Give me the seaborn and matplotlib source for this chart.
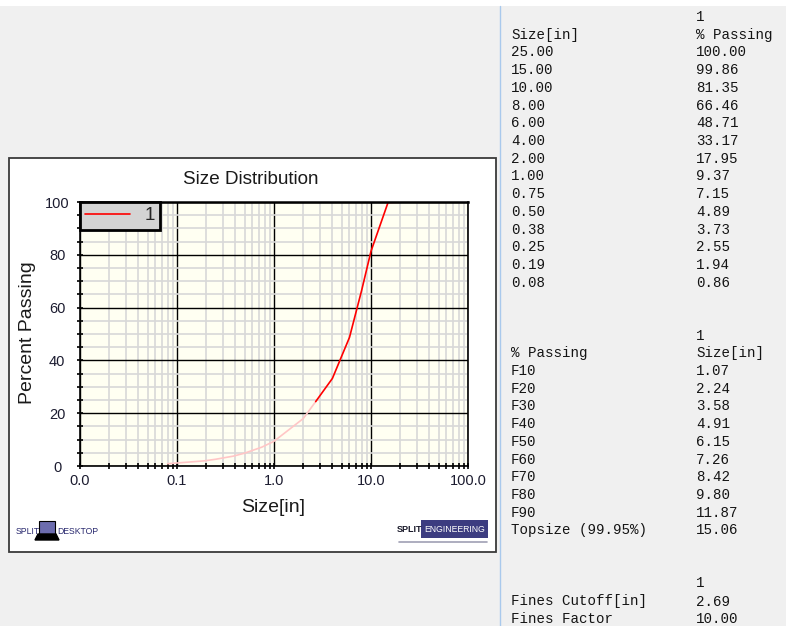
import matplotlib
matplotlib.use("Agg")
import numpy as np
import pandas as pd
import seaborn as sns
import matplotlib.pyplot as plt
from matplotlib.patches import Rectangle, Polygon
from matplotlib.lines import Line2D
from matplotlib.ticker import FixedLocator, LogLocator, NullFormatter, MultipleLocator
from matplotlib import font_manager

# ---------------- data ----------------
sizes = [25.00, 15.00, 10.00, 8.00, 6.00, 4.00, 2.00, 1.00, 0.75, 0.50, 0.38, 0.25, 0.19, 0.08]
passing = [100.00, 99.86, 81.35, 66.46, 48.71, 33.17, 17.95, 9.37, 7.15, 4.89, 3.73, 2.55, 1.94, 0.86]
size_labels = ["25.00", "15.00", "10.00", "8.00", "6.00", "4.00", "2.00", "1.00",
               "0.75", "0.50", "0.38", "0.25", "0.19", "0.08"]
passing_labels = ["100.00", "99.86", "81.35", "66.46", "48.71", "33.17", "17.95", "9.37",
                  "7.15", "4.89", "3.73", "2.55", "1.94", "0.86"]
f_labels = ["F10", "F20", "F30", "F40", "F50", "F60", "F70", "F80", "F90", "Topsize (99.95%)"]
f_values = ["1.07", "2.24", "3.58", "4.91", "6.15", "7.26", "8.42", "9.80", "11.87", "15.06"]
fines_labels = ["Fines Cutoff[in]", "Fines Factor"]
fines_values = ["2.69", "10.00"]
fines_cutoff = 2.69
cutoff_passing = 24.4
x_tick_vals = [0.01, 0.1, 1, 10, 100]
x_tick_labels = ["0.0", "0.1", "1.0", "10.0", "100.0"]
y_tick_vals = [0, 20, 40, 60, 80, 100]

# ---------------- style ----------------
sns.set_theme(style="white")
plt.rcParams["font.family"] = ["Liberation Sans", "DejaVu Sans"]
names = {f.name for f in font_manager.fontManager.ttflist}
narrow = "Liberation Sans Narrow" if "Liberation Sans Narrow" in names else "Liberation Sans"
mono = "Liberation Mono"

W, H = 786, 626
fig = plt.figure(figsize=(W / 100, H / 100), dpi=100, facecolor="#f0f0f0")


def fx(x):
    return x / W


def fy(y):
    return 1 - y / H


# top white strip and separator
fig.add_artist(Rectangle((0, fy(6)), 1, 6 / H, transform=fig.transFigure,
                         facecolor="white", edgecolor="none", zorder=-10))
fig.add_artist(Line2D([fx(499.5), fx(499.5)], [fy(626), fy(6)], transform=fig.transFigure,
                      color="#a9c9ec", lw=1, zorder=-10))

# chart panel
fig.add_artist(Rectangle((fx(9), fy(552)), (496 - 9) / W, (552 - 158) / H,
                         transform=fig.transFigure, facecolor="white",
                         edgecolor="#3a3a3a", lw=1.3, zorder=-10))

ax = fig.add_axes([fx(80), fy(466), 388 / W, 264 / H])
ax.set_facecolor("#fffff2")

df = pd.DataFrame({"size": sizes, "passing": passing})
fine = pd.concat([df[df["size"] < fines_cutoff],
                  pd.DataFrame({"size": [fines_cutoff], "passing": [cutoff_passing]})])
coarse = pd.concat([pd.DataFrame({"size": [fines_cutoff], "passing": [cutoff_passing]}),
                    df[df["size"] > fines_cutoff]])

sns.lineplot(data=fine, x="size", y="passing", ax=ax, color="#ffc6c6", lw=1.2,
             estimator=None, sort=True, legend=False)
sns.lineplot(data=coarse, x="size", y="passing", ax=ax, color="#ff0000", lw=1.2,
             estimator=None, sort=True, legend=False)

ax.set_xscale("log")
ax.set_xlim(0.01, 100)
ax.set_ylim(0, 100)
ax.xaxis.set_major_locator(FixedLocator(x_tick_vals))
ax.set_xticklabels(x_tick_labels)
ax.xaxis.set_minor_locator(LogLocator(base=10, subs=range(2, 10)))
ax.xaxis.set_minor_formatter(NullFormatter())
ax.yaxis.set_major_locator(FixedLocator(y_tick_vals))
ax.set_yticklabels([str(v) for v in y_tick_vals])
ax.yaxis.set_minor_locator(MultipleLocator(5))

ax.set_axisbelow(True)
ax.grid(which="minor", color="#d8d8d8", lw=1.2)
ax.grid(which="major", color="black", lw=1.0)
for s in ax.spines.values():
    s.set_visible(True)
    s.set_color("black")
    s.set_linewidth(1.2)
ax.spines["top"].set_linewidth(1.8)

ax.tick_params(which="both", direction="inout", length=5, width=1.2, color="black",
               bottom=True, left=True)
ax.tick_params(axis="x", labelsize=10.5, labelcolor="#1c1c30", pad=3)
ax.tick_params(axis="y", labelsize=10.5, labelcolor="#1c1c30", pad=14)
for lbl in ax.get_yticklabels():
    lbl.set_horizontalalignment("center")

ax.set_xlabel("")
ax.set_ylabel("")
ax.text(fx(251), fy(179), "Size Distribution", transform=fig.transFigure,
        ha="center", va="center", fontsize=13.6, color="#1a1a1a")
ax.text(fx(273), fy(507), "Size[in]", transform=fig.transFigure,
        ha="center", va="center", fontsize=14, color="#1a1a1a")
ax.text(fx(28), fy(333), "Percent Passing", transform=fig.transFigure, rotation=90,
        ha="center", va="center", fontsize=14, color="#1a1a1a")

handle = Line2D([], [], color="#ff0000", lw=1.2)
leg = ax.legend([handle], ["1"], loc="upper left", bbox_to_anchor=(0, 1),
                borderaxespad=0, fontsize=13.5, handlelength=2.4, handletextpad=0.75,
                borderpad=0.28, fancybox=False, framealpha=1, facecolor="#d4d4d4",
                edgecolor="black")
leg.get_frame().set_linewidth(2)

# logos
fig.text(fx(16), fy(531), "SPLIT", fontsize=6.2, color="#28286e", family=narrow,
         va="center", ha="left")
fig.add_artist(Rectangle((fx(39), fy(534)), 16 / W, 13 / H, transform=fig.transFigure,
                         facecolor="#6c6cae", edgecolor="black", lw=0.8))
fig.add_artist(Polygon([[fx(35), fy(540)], [fx(59), fy(540)], [fx(56), fy(534)], [fx(38), fy(534)]],
                       closed=True, transform=fig.transFigure, facecolor="black", edgecolor="black"))
fig.text(fx(57), fy(531), "DESKTOP", fontsize=6.2, color="#28286e", family=narrow,
         va="center", ha="left")

fig.text(fx(397), fy(529), "SPLIT", fontsize=6.5, color="#1a1a2a", family=narrow,
         weight="bold", va="center", ha="left")
fig.add_artist(Rectangle((fx(421), fy(538)), 67 / W, 18 / H, transform=fig.transFigure,
                         facecolor="#3c3c80", edgecolor="none"))
fig.text(fx(454.5), fy(529), "ENGINEERING", fontsize=6.2, color="white", family=narrow,
         va="center", ha="center")
fig.add_artist(Line2D([fx(399), fx(487)], [fy(542), fy(542)], transform=fig.transFigure,
                      color="#a0a0b4", lw=1.2))

# tables
tc = "#141414"
fs = 10.2
c1, c2 = fx(511), fx(696)
fig.text(c2, fy(17), "1", family=mono, fontsize=fs, color=tc, va="center")
fig.text(c1, fy(35), "Size[in]", family=mono, fontsize=fs, color=tc, va="center")
fig.text(c2, fy(35), "% Passing", family=mono, fontsize=fs, color=tc, va="center")
for i, (a, b) in enumerate(zip(size_labels, passing_labels)):
    y = 52.5 + i * 17.7
    fig.text(c1, fy(y), a, family=mono, fontsize=fs, color=tc, va="center")
    fig.text(c2, fy(y), b, family=mono, fontsize=fs, color=tc, va="center")

fig.text(c2, fy(336), "1", family=mono, fontsize=fs, color=tc, va="center")
fig.text(c1, fy(353.5), "% Passing", family=mono, fontsize=fs, color=tc, va="center")
fig.text(c2, fy(353.5), "Size[in]", family=mono, fontsize=fs, color=tc, va="center")
for i, (a, b) in enumerate(zip(f_labels, f_values)):
    y = 371 + i * 17.7
    fig.text(c1, fy(y), a, family=mono, fontsize=fs, color=tc, va="center")
    fig.text(c2, fy(y), b, family=mono, fontsize=fs, color=tc, va="center")

fig.text(c2, fy(583), "1", family=mono, fontsize=fs, color=tc, va="center")
for i, (a, b) in enumerate(zip(fines_labels, fines_values)):
    y = 601.5 + i * 17.7
    fig.text(c1, fy(y), a, family=mono, fontsize=fs, color=tc, va="center")
    fig.text(c2, fy(y), b, family=mono, fontsize=fs, color=tc, va="center")

fig.savefig("out.png", dpi=100, facecolor=fig.get_facecolor())
